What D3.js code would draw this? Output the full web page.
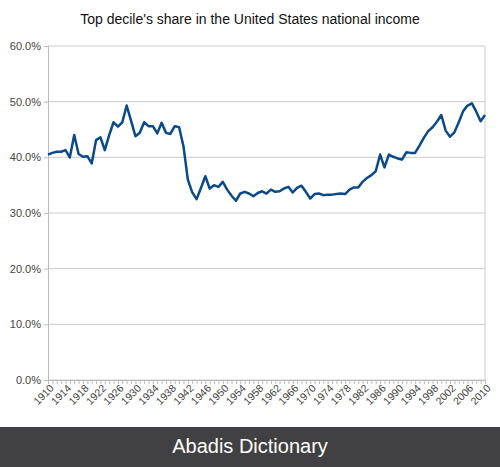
<!DOCTYPE html>
<html lang="en">
<head>
<meta charset="UTF-8">
<title>Top decile share</title>
<style>
  body { margin: 0; background: #fff; font-family: "Liberation Sans", Arial, sans-serif; }
  .axis text { font-size: 11px; fill: #444; }
  .axis path, .axis line { stroke: #bbb; }
</style>
</head>
<body>
<div id="chart"></div>
<script src="https://d3js.org/d3.v7.min.js"></script>
<script>
const years = d3.range(1910, 2011);
const shares = [
  40.5, 40.8, 41.0, 41.0, 41.3, 40.0, 44.0, 40.6, 40.1, 40.2,
  38.9, 43.1, 43.6, 41.3, 44.0, 46.3, 45.5, 46.3, 49.3, 46.6,
  43.8, 44.4, 46.3, 45.6, 45.6, 44.3, 46.2, 44.4, 44.2, 45.6,
  45.4, 42.0, 36.0, 33.7, 32.5, 34.5, 36.6, 34.4, 35.0, 34.7,
  35.6, 34.2, 33.1, 32.2, 33.5, 33.8, 33.5, 33.0, 33.6, 33.9,
  33.5, 34.2, 33.8, 33.9, 34.4, 34.7, 33.7, 34.5, 34.9, 33.8,
  32.6, 33.4, 33.5, 33.2, 33.3, 33.3, 33.4, 33.5, 33.4, 34.2,
  34.6, 34.6, 35.6, 36.3, 36.8, 37.5, 40.5, 38.2, 40.5, 40.1,
  39.8, 39.6, 40.9, 40.8, 40.8, 42.1, 43.5, 44.7, 45.4, 46.4,
  47.6, 44.8, 43.7, 44.5, 46.3, 48.3, 49.3, 49.7, 48.2, 46.5,
  47.6
];
const yTicks = [0, 10, 20, 30, 40, 50, 60];
const xTickYears = d3.range(1910, 2011, 4);
const title = "Top decile's share in the United States national income";

const W = 500, H = 467;
const m = { left: 48, right: 15, top: 46, bottom: 87 };

const svg = d3.select("#chart").append("svg").attr("width", W).attr("height", H);

const x = d3.scaleLinear().domain([1910, 2010]).range([m.left, W - m.right]);
const y = d3.scaleLinear().domain([0, 60]).range([H - m.bottom, m.top]);

// grid
svg.append("g").selectAll("line").data(yTicks).enter().append("line")
  .attr("x1", m.left).attr("x2", W - m.right)
  .attr("y1", d => y(d)).attr("y2", d => y(d))
  .attr("stroke", "#ccc");
svg.append("line").attr("x1", W - m.right).attr("x2", W - m.right)
  .attr("y1", m.top).attr("y2", H - m.bottom).attr("stroke", "#ccc");

svg.append("g").attr("class", "axis")
  .attr("transform", `translate(${m.left},0)`)
  .call(d3.axisLeft(y).tickValues(yTicks).tickSize(4).tickFormat(d => d.toFixed(1) + "%"));

svg.append("g").attr("class", "axis")
  .attr("transform", `translate(0,${H - m.bottom})`)
  .call(d3.axisBottom(x).tickValues(years).tickSize(4).tickFormat(""));

svg.append("g").attr("class", "axis")
  .attr("transform", `translate(0,${H - m.bottom + 6})`)
  .call(d3.axisBottom(x).tickValues(xTickYears).tickSize(0).tickFormat(d3.format("d")))
  .call(g => g.select(".domain").remove())
  .selectAll("text")
  .attr("y", 0).attr("x", 0)
  .attr("dx", "0.2em").attr("dy", "0.6em")
  .attr("transform", "rotate(-45)")
  .style("font-size", "10.5px")
  .style("text-anchor", "end");

svg.append("path")
  .datum(years.map((yr, i) => [yr, shares[i]]))
  .attr("fill", "none").attr("stroke", "#0a4a8a").attr("stroke-width", 2.5)
  .attr("stroke-linejoin", "round")
  .attr("d", d3.line().x(d => x(d[0])).y(d => y(d[1])));

svg.append("text").attr("x", 250).attr("y", 24).attr("text-anchor", "middle")
  .style("font-size", "14px").attr("fill", "#111").text(title);

svg.append("rect").attr("x", 0).attr("y", 427).attr("width", W).attr("height", H - 427).attr("fill", "#414042");
svg.append("text").attr("x", 250).attr("y", 453).attr("text-anchor", "middle")
  .style("font-size", "20px").attr("fill", "#fff").text("Abadis Dictionary");
</script>
</body>
</html>
